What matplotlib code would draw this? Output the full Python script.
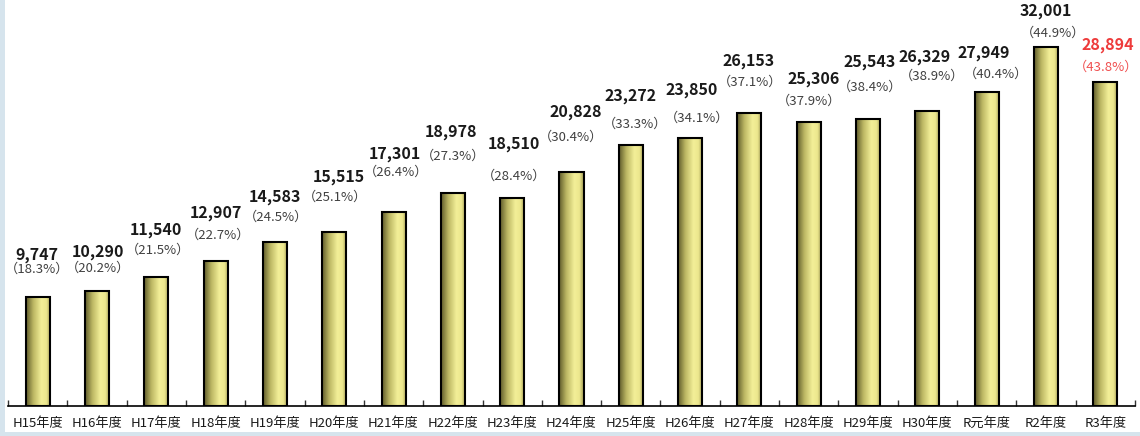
import numpy as np
import matplotlib
matplotlib.use("Agg")
import matplotlib.pyplot as plt
from matplotlib.colors import LinearSegmentedColormap
from matplotlib.patches import Rectangle

plt.rcParams['font.family'] = ['Noto Sans CJK JP', 'DejaVu Sans']

# データ（年度別件数と割合）
years = ["H15年度", "H16年度", "H17年度", "H18年度", "H19年度", "H20年度", "H21年度",
         "H22年度", "H23年度", "H24年度", "H25年度", "H26年度", "H27年度", "H28年度",
         "H29年度", "H30年度", "R元年度", "R2年度", "R3年度"]
counts = [9747, 10290, 11540, 12907, 14583, 15515, 17301, 18978, 18510, 20828,
          23272, 23850, 26153, 25306, 25543, 26329, 27949, 32001, 28894]
ratios = [18.3, 20.2, 21.5, 22.7, 24.5, 25.1, 26.4, 27.3, 28.4, 30.4,
          33.3, 34.1, 37.1, 37.9, 38.4, 38.9, 40.4, 44.9, 43.8]

# ラベル位置のずれ（ピクセル, 棒の上端から）
val_dx = [-1, 1, 0, 0, 0, 5, 1, -2, 1.5, 4, 0, 2, -1, 5, 2, -3, -3, 0, 2]
val_dy = [42, 39, 47, 48, 45, 55, 58, 61, 54, 60, 49, 48, 52, 43, 57, 54, 39, 36, 37]
pct_dx = [-1, 1, 2, 2, 1, 1, 3, 0, 2, 0, 4, 7, 1, 0, 2, 5, 9, 7, 1]
pct_dy = [27, 22, 26, 26, 25, 35, 40, 37, 22, 35, 21, 20, 30, 21, 32, 34, 18, 14, 15]

fig = plt.figure(figsize=(11.4, 4.36), dpi=100)
ax = fig.add_axes([8 / 1140, 30 / 436, 1127 / 1140, 406 / 436])

# 枠の水色の帯
fig.patches.append(Rectangle((0, 0), 5 / 1140, 1, transform=fig.transFigure,
                             facecolor="#d6e4ed", edgecolor="none"))
fig.patches.append(Rectangle((0, 0), 1, 4 / 436, transform=fig.transFigure,
                             facecolor="#d6e4ed", edgecolor="none"))

x = np.arange(len(years))
bars = ax.bar(x, counts, width=0.405, facecolor="none", edgecolor="black",
              linewidth=1.5, zorder=3)

cmap = LinearSegmentedColormap.from_list(
    "cyl", [(0.0, "#5e5a2a"), (0.3, "#bdb864"), (0.62, "#f3ef98"),
            (0.82, "#ece78e"), (1.0, "#a29c55")])
grad = np.linspace(0, 1, 256).reshape(1, -1)
for b in bars:
    x0, y0 = b.get_xy()
    im = ax.imshow(grad, cmap=cmap, extent=[x0, x0 + b.get_width(), y0, y0 + b.get_height()],
                   aspect="auto", zorder=2)
    im.set_clip_path(b)

for i, (c, r) in enumerate(zip(counts, ratios)):
    last = i == len(counts) - 1
    vcol = "#ee3b3b" if last else "#1a1a1a"
    pcol = "#f05050" if last else "#404040"
    ax.annotate(f"{c:,}", xy=(i, c), xytext=(val_dx[i] * 0.72, val_dy[i] * 0.72),
                textcoords="offset points", ha="center", va="center",
                fontsize=11.5, fontweight="bold", color=vcol)
    ax.annotate(f"（{r:.1f}%）", xy=(i, c), xytext=(pct_dx[i] * 0.72, pct_dy[i] * 0.72),
                textcoords="offset points", ha="center", va="center",
                fontsize=9.5, color=pcol)

ax.set_xlim(-0.5, len(years) - 0.5)
ax.set_ylim(0, 36185)
ax.set_xticks(x)
ax.set_xticklabels(years, fontsize=9.5, color="#1a1a1a")
ax.tick_params(axis="x", which="major", length=0, pad=8)
ax.set_xticks(np.arange(-0.5, len(years)), minor=True)
ax.tick_params(axis="x", which="minor", direction="in", length=4, width=1, color="#333333")
ax.set_yticks([])
for s in ["top", "right", "left"]:
    ax.spines[s].set_visible(False)
ax.spines["bottom"].set_linewidth(1.2)
ax.patch.set_alpha(0)

fig.savefig("out.png", dpi=100)
